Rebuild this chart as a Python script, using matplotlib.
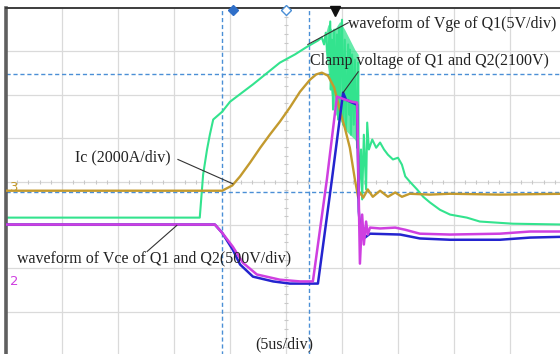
import numpy as np
import matplotlib
matplotlib.use("Agg")
import matplotlib.pyplot as plt

# 示波器截图: 每格 (div) 为单位, x 0..10, y -4..4 (中心线为 0)
# Ic 电流 (2000A/div)
ic_t = [0.00, 3.86, 4.04, 4.18, 4.36, 4.54, 4.71, 4.89, 5.07, 5.25,
        5.43, 5.54, 5.64, 5.75, 5.86, 5.96, 6.05, 6.14, 6.23, 6.29,
        6.32, 6.38, 6.46, 6.55, 6.68, 6.82, 6.95, 7.07, 7.21, 7.57,
        7.93, 8.82, 10.00]
ic_v = [-0.21, -0.21, -0.09, 0.12, 0.44, 0.78, 1.08, 1.38, 1.71, 2.07,
        2.35, 2.47, 2.51, 2.44, 2.17, 1.66, 1.24, 0.78, 0.05, -0.37,
        -0.25, -0.37, -0.18, -0.35, -0.21, -0.35, -0.25, -0.35, -0.28, -0.30,
        -0.28, -0.30, -0.28]

# Vge of Q1 (5V/div)
vge_t = [0.00, 3.46, 3.52, 3.59, 3.64, 3.70, 3.86, 4.00, 4.41, 4.89,
         5.16, 5.38, 5.57, 5.64,
         5.68, 5.71, 5.75, 5.79, 5.80, 5.82, 5.84, 5.86, 5.89, 5.91,
         5.93, 5.95, 5.96, 6.00, 6.02, 6.05, 6.07, 6.11, 6.13, 6.14,
         6.16, 6.18, 6.21, 6.23, 6.27, 6.29,
         6.30, 6.34, 6.36, 6.39, 6.43, 6.45, 6.48, 6.54, 6.61, 6.68,
         6.75, 6.82, 6.91, 7.00, 7.07, 7.13, 7.21, 7.34, 7.45, 7.57,
         7.75, 7.93, 8.23, 8.46, 9.05, 10.00]
vge_v = [-0.83, -0.83, 0.16, 0.74, 1.08, 1.43, 1.61, 1.84, 2.24, 2.74,
         2.93, 3.11, 3.25, 3.32,
         3.16, 3.43, 2.81, 3.69, 2.12, 3.27, 1.66, 3.50, 2.00, 3.39,
         1.43, 3.55, 1.77, 3.73, 1.31, 3.27, 1.20, 3.16, 1.54, 3.04,
         1.08, 2.93, 1.31, 2.81, 0.78, 2.74,
         -0.30, 0.74, -0.41, 1.08, -0.18, 1.36, 0.74, 0.97, 0.78, 0.90,
         0.74, 0.62, 0.51, 0.55, 0.39, 0.12, 0.00, -0.18, -0.35, -0.48,
         -0.65, -0.76, -0.83, -0.92, -0.97, -0.99]

# Vge 振荡区的包络 (上/下沿)
burst_t = [5.70, 5.75, 5.82, 5.89, 5.96, 6.05, 6.14, 6.23, 6.29]
burst_top = [3.39, 3.62, 3.50, 3.55, 3.69, 3.50, 3.27, 3.04, 2.93]
burst_bot = [3.04, 2.58, 1.89, 1.54, 1.43, 1.20, 1.08, 0.97, 0.78]

# Vce of Q1 (500V/div)
vce1_t = [0.00, 3.73, 3.86, 4.05, 4.23, 4.48, 4.89, 5.25, 5.48, 5.73,
          5.91, 6.05, 6.18, 6.27, 6.30, 6.32, 6.36, 6.39, 6.43, 6.46,
          6.50, 6.68, 6.95, 7.13, 7.39, 7.93, 8.82, 9.36, 10.00]
vce1_v = [-0.99, -0.99, -1.18, -1.50, -1.87, -2.14, -2.26, -2.30, -2.30, 0.05,
          1.96, 1.89, 1.84, 1.82, -0.41, -1.89, -0.76, -1.45, -0.92, -1.22,
          -1.06, -1.08, -1.06, -1.11, -1.20, -1.22, -1.20, -1.15, -1.15]

# Vce of Q2 (500V/div)
vce2_t = [0.00, 3.73, 3.86, 4.05, 4.18, 4.41, 4.77, 5.07, 5.57, 5.82,
          6.02, 6.07, 6.18, 6.27, 6.30, 6.34, 6.38, 6.41, 6.50, 7.04,
          7.39, 7.93, 8.82, 9.36, 10.00]
vce2_v = [-0.99, -0.99, -1.18, -1.57, -1.91, -2.19, -2.30, -2.35, -2.35, 0.05,
          2.05, 1.89, 1.82, 1.77, -0.69, -1.34, -1.06, -1.29, -1.20, -1.22,
          -1.31, -1.34, -1.34, -1.29, -1.27]

# 光标位置
cursor_x = [3.86, 5.41]
cursor_y = [2.49, -0.25]

C_GREEN = "#33e38e"
C_YELLOW = "#c39a2e"
C_MAGENTA = "#cf3fe0"
C_BLUE = "#2424cf"
C_CURSOR = "#4b8fd6"
C_GRID = "#dadada"

fig = plt.figure(figsize=(5.6, 3.54), dpi=100)
ax = fig.add_axes([6 / 560, -1.2 / 354, 560 / 560, 347.2 / 354])
ax.set_xlim(0, 10)
ax.set_ylim(-4, 4)
ax.set_xticks([])
ax.set_yticks([])

# 网格
for gx in range(1, 10):
    ax.axvline(gx, color=C_GRID, lw=0.9, zorder=0)
for gy in range(-3, 4):
    ax.axhline(gy, color=C_GRID, lw=0.9, zorder=0)
# 中心轴小刻度
minor = np.arange(0, 10.01, 0.2)
ax.plot(minor, np.zeros_like(minor), ls="none", marker="|", ms=3,
        color="#c8c8c8", mew=0.8, zorder=0)
minor_y = np.arange(-4, 4.01, 0.2)
ax.plot(np.full_like(minor_y, 5.0), minor_y, ls="none", marker="_", ms=3,
        color="#c8c8c8", mew=0.8, zorder=0)

# 光标
for cx in cursor_x:
    ax.axvline(cx, color=C_CURSOR, lw=1.0, ls=(0, (3, 2)), zorder=1)
for cy in cursor_y:
    ax.axhline(cy, color=C_CURSOR, lw=1.0, ls=(0, (3, 2)), zorder=1)

# 波形
ax.fill_between(burst_t, burst_bot, burst_top, color=C_GREEN, alpha=0.75,
                lw=0, zorder=2)
ax.plot(vge_t, vge_v, color=C_GREEN, lw=1.5, zorder=2)
ax.plot(ic_t, ic_v, color=C_YELLOW, lw=1.7, zorder=3)
ax.plot(vce2_t, vce2_v, color=C_BLUE, lw=1.8, zorder=4)
ax.plot(vce1_t, vce1_v, color=C_MAGENTA, lw=1.8, zorder=5)

# 边框
for side in ["right", "bottom"]:
    ax.spines[side].set_visible(False)
ax.spines["left"].set_color("#5f5f5f")
ax.spines["left"].set_linewidth(2.6)
ax.spines["top"].set_color("#3c3c3c")
ax.spines["top"].set_linewidth(1.4)

# 顶部标记
ax.plot([4.05], [3.95], marker="D", ms=5.5, color="#2f6fc8", clip_on=False, zorder=6)
ax.plot([5.0], [3.95], marker="D", ms=5, mfc="white", mec="#4b8fd6", mew=1.0,
        clip_on=False, zorder=6)
ax.plot([5.88], [3.93], marker="v", ms=6.5, color="#111111", clip_on=False, zorder=6)

# 通道标签
ax.text(0.07, -0.14, "3", color=C_YELLOW, fontsize=9.5, va="center", ha="left")
ax.text(0.07, -2.30, "2", color=C_MAGENTA, fontsize=9.5, va="center", ha="left")

# 注释文字
tfont = dict(family="Liberation Serif", fontsize=11.5, color="#222222", zorder=7)
ax.text(1.23, 0.55, "Ic (2000A/div)", va="center", ha="left", **tfont)
ax.plot([3.07, 4.05], [0.51, -0.05], color="#333333", lw=0.8, zorder=7)

ax.text(6.11, 3.62, "waveform of Vge of Q1(5V/div)", va="center", ha="left", **tfont)
ax.plot([6.11, 5.39], [3.66, 3.16], color="#333333", lw=0.8, zorder=7)

ax.text(5.43, 2.79, "Clamp voltage of Q1 and Q2(2100V)", va="center", ha="left", **tfont)
ax.plot([6.29, 6.02], [2.53, 2.05], color="#333333", lw=0.8, zorder=7)

ax.text(0.20, -1.77, "waveform of Vce of Q1 and Q2(500V/div)", va="center", ha="left", **tfont)
ax.plot([2.52, 3.05], [-1.61, -1.01], color="#333333", lw=0.8, zorder=7)

ax.text(4.45, -3.76, "(5us/div)", va="center", ha="left", **tfont)

fig.savefig("out.png", dpi=100)
